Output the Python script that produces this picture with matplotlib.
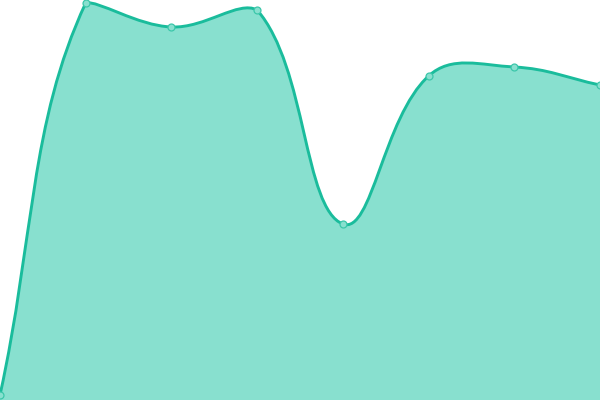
import numpy as np
import matplotlib
matplotlib.use("Agg")
import matplotlib.pyplot as plt
from matplotlib.path import Path
from matplotlib.patches import PathPatch

categories = ["A", "B", "C", "D", "E", "F", "G", "H"]
values = [5, 397, 373, 390, 176, 324, 333, 315]

LINE = "#1abc9c"
FILL = "#88e0cf"
TENSION = 0.4

fig = plt.figure(figsize=(6, 4), dpi=100)
ax = fig.add_axes([0, 0, 1, 1])
ax.set_xlim(0, len(categories) - 1)
ax.set_ylim(0, 400)
ax.axis("off")

xs = np.arange(len(categories), dtype=float)
ys = np.array(values, dtype=float)
pix = ax.transData.transform(np.column_stack([xs, ys]))
W, H = 600, 400

n = len(pix)
cps = []
for i in range(n):
    cur = pix[i]
    prev = pix[i - 1] if i > 0 else cur
    nxt = pix[i + 1] if i < n - 1 else cur
    d01 = np.hypot(*(cur - prev))
    d12 = np.hypot(*(nxt - cur))
    tot = d01 + d12
    s01 = d01 / tot if tot else 0
    s12 = d12 / tot if tot else 0
    fa = TENSION * s01
    fb = TENSION * s12
    c1 = cur - fa * (nxt - prev)
    c2 = cur + fb * (nxt - prev)
    c1 = np.clip(c1, [0, 0], [W, H])
    c2 = np.clip(c2, [0, 0], [W, H])
    cps.append((c1, c2))

verts = [pix[0]]
codes = [Path.MOVETO]
for i in range(1, n):
    verts += [cps[i - 1][1], cps[i][0], pix[i]]
    codes += [Path.CURVE4] * 3
inv = ax.transData.inverted()
dverts = inv.transform(np.array(verts))

line_path = Path(dverts, codes)
fill_verts = list(dverts) + [[xs[-1], 0], [xs[0], 0], dverts[0]]
fill_codes = codes + [Path.LINETO, Path.LINETO, Path.CLOSEPOLY]
ax.add_patch(PathPatch(Path(fill_verts, fill_codes), facecolor=FILL, edgecolor="none", zorder=1))
ax.add_patch(PathPatch(line_path, facecolor="none", edgecolor=LINE, lw=2.1, zorder=2))
ax.plot(xs, ys, "o", ms=5, mfc=FILL, mec="#3cc7aa", mew=0.9, zorder=3, clip_on=False)

fig.savefig("out.png", dpi=100)
